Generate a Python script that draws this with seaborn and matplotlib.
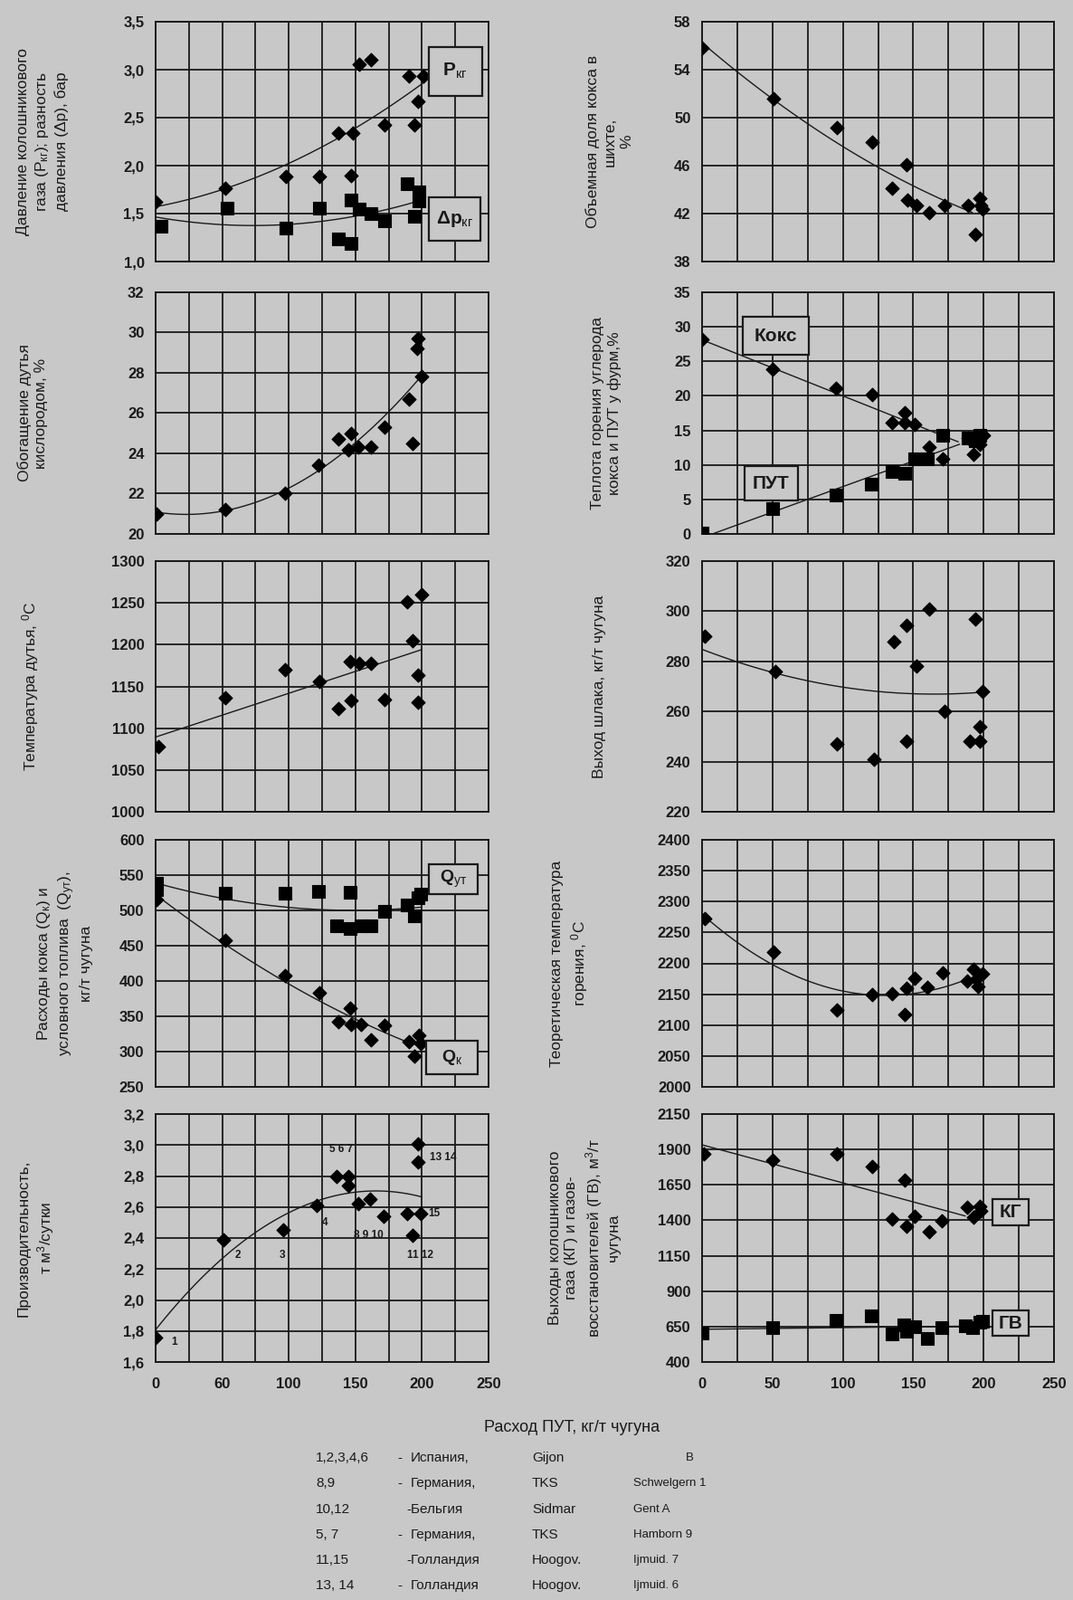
import numpy as np
import matplotlib
matplotlib.use('Agg')
import matplotlib.pyplot as plt
import seaborn as sns
from matplotlib.patches import Rectangle

sns.set_style('white')
plt.rcParams['font.family'] = ['Liberation Sans', 'DejaVu Sans']
plt.rcParams['mathtext.fontset'] = 'custom'
plt.rcParams['mathtext.rm'] = 'Liberation Sans'
plt.rcParams['mathtext.it'] = 'Liberation Sans'
plt.rcParams['mathtext.bf'] = 'Liberation Sans:bold'

BG = '#c8c8c8'
INK = '#1a1a1a'

# ---- data (x = расход ПУТ, кг/т чугуна) ----
p_kg_x = [0, 52, 98, 123, 147, 137, 148, 153, 162, 172, 190, 201, 197, 194]
p_kg_y = [1.62, 1.76, 1.89, 1.89, 1.90, 2.34, 2.34, 3.06, 3.10, 2.42, 2.93, 2.93, 2.67, 2.42]
dp_x = [4, 54, 98, 123, 137, 147, 147, 153, 162, 172, 189, 194, 198, 198]
dp_y = [1.37, 1.56, 1.35, 1.56, 1.24, 1.19, 1.64, 1.55, 1.50, 1.42, 1.81, 1.47, 1.73, 1.63]

coke_share_x = [0, 51, 96, 121, 145, 135, 146, 152, 161, 172, 189, 197, 199, 194, 198]
coke_share_y = [55.8, 51.6, 49.2, 48.0, 46.1, 44.1, 43.1, 42.7, 42.1, 42.7, 42.7, 43.3, 42.4, 40.3, 42.7]

o2_x = [1, 52, 97, 122, 137, 147, 145, 152, 162, 172, 190, 193, 197, 196, 200]
o2_y = [21.0, 21.2, 22.0, 23.4, 24.7, 25.0, 24.2, 24.3, 24.3, 25.3, 26.7, 24.5, 29.7, 29.2, 27.8]

heat_coke_x = [0, 50, 95, 121, 135, 144, 144, 151, 161, 171, 189, 193, 197, 200]
heat_coke_y = [28.2, 23.8, 21.1, 20.2, 16.1, 17.6, 16.1, 15.9, 12.6, 10.9, 13.9, 11.5, 13.0, 14.3]
heat_pci_x = [0, 50, 95, 120, 135, 144, 151, 160, 171, 189, 197, 194]
heat_pci_y = [0.1, 3.7, 5.7, 7.2, 9.0, 8.8, 10.9, 10.9, 14.3, 13.9, 14.3, 13.5]

blast_t_x = [2, 52, 97, 123, 137, 147, 146, 153, 162, 172, 189, 200, 193, 197, 197]
blast_t_y = [1078, 1136, 1170, 1156, 1123, 1133, 1180, 1178, 1178, 1134, 1251, 1260, 1205, 1163, 1131]

slag_x = [2, 52, 96, 122, 136, 145, 152, 145, 161, 172, 194, 199, 197, 190, 197]
slag_y = [290, 276, 247, 241, 288, 294.5, 278, 248, 301, 260, 297, 268, 254, 248, 248]

fuel_x = [1, 1, 52, 97, 122, 146, 136, 146, 154, 162, 172, 189, 194, 197, 199]
fuel_y = [539, 529, 524, 524, 527, 526, 478, 474, 478, 478, 499, 508, 492, 518, 523]
coke_x = [1, 52, 97, 123, 137, 146, 147, 154, 162, 172, 190, 194, 198, 199]
coke_y = [516, 458, 408, 383, 342, 361, 338, 338, 317, 337, 314, 294, 323, 312]

flame_x = [2, 51, 96, 121, 135, 144, 145, 151, 160, 171, 188, 193, 196, 199, 195]
flame_y = [2272, 2218, 2124, 2149, 2151, 2117, 2160, 2176, 2161, 2185, 2171, 2190, 2162, 2183, 2174]

prod_x = [0, 51, 96, 121, 136, 145, 145, 152, 161, 171, 189, 193, 199, 197, 197]
prod_y = [1.76, 2.39, 2.45, 2.61, 2.80, 2.80, 2.74, 2.62, 2.65, 2.54, 2.56, 2.42, 2.56, 3.01, 2.89]

tg_x = [1, 50, 96, 121, 144, 135, 145, 151, 161, 170, 188, 193, 197, 198]
tg_y = [1869, 1827, 1869, 1778, 1685, 1408, 1357, 1431, 1319, 1398, 1493, 1419, 1499, 1467]
rg_x = [0, 50, 95, 120, 135, 143, 145, 151, 160, 170, 187, 192, 197, 199]
rg_y = [607, 643, 692, 723, 596, 664, 616, 647, 569, 643, 654, 643, 679, 685]

# tick labels
x_labels_left = ['0', '60', '100', '150', '200', '250']
x_labels_right = ['0', '50', '100', '150', '200', '250']

legend_ids = ['1,2,3,4,6', '8,9', '10,12', '5, 7', '11,15', '13, 14']
legend_dash = ['-', '-', '', '-', '', '-']
legend_country = ['Испания,', 'Германия,', '-Бельгия', 'Германия,', '-Голландия', 'Голландия']
legend_plant = ['Gijon', 'TKS', 'Sidmar', 'TKS', 'Hoogov.', 'Hoogov.']
legend_furnace = ['B', 'Schwelgern 1', 'Gent A', 'Hamborn 9', 'Ijmuid. 7', 'Ijmuid. 6']

fig = plt.figure(figsize=(11.86, 17.68), dpi=100)
fig.patch.set_facecolor(BG)

W, H = 1186, 1768
cols = [(172, 368), (776, 389)]
rows = [(24, 289), (323, 590), (620, 897), (928, 1201), (1231, 1505)]


def make_ax(r, c):
    x0, w = cols[c]
    top, bot = rows[r]
    ax = fig.add_axes([x0 / W, 1 - bot / H, w / W, (bot - top) / H])
    ax.set_facecolor(BG)
    return ax


def style(ax, yticks, ylabels, bottom=False, xlabels=None):
    ax.set_xlim(0, 250)
    ax.set_ylim(yticks[0], yticks[-1])
    ax.set_xticks(np.arange(0, 251, 25))
    if bottom:
        lab = []
        for v in np.arange(0, 251, 25):
            lab.append(xlabels[int(v // 50)] if v % 50 == 0 else '')
        ax.set_xticklabels(lab, fontsize=12, fontweight='bold')
    else:
        ax.set_xticklabels([])
    ax.set_yticks(yticks)
    ax.set_yticklabels(ylabels, fontsize=12, fontweight='bold')
    ax.tick_params(axis='x', length=0, pad=12, colors=INK)
    ax.tick_params(axis='y', length=3, pad=6, colors=INK)
    ax.grid(True, color=INK, lw=1.3)
    ax.set_axisbelow(True)
    for s in ax.spines.values():
        s.set_color(INK)
        s.set_linewidth(1.4)
    ax.set_xlabel('')


def ylab(ax, text, xpix, c):
    x0, w = cols[c]
    ax.set_ylabel(text, fontsize=12.5, linespacing=1.3, color=INK)
    ax.yaxis.label.set_verticalalignment('center')
    ax.yaxis.set_label_coords((xpix - x0) / w, 0.5)


def pts(ax, x, y, marker):
    size = 58 if marker == 'D' else 100
    sns.scatterplot(x=x, y=y, marker=marker, s=size, color='black',
                    edgecolor='black', linewidth=0.8, ax=ax, zorder=4, legend=False)


def trend(ax, x, y, deg, x_end):
    coef = np.polyfit(x, y, deg)
    xx = np.linspace(0, x_end, 100)
    ax.plot(xx, np.polyval(coef, xx), color=INK, lw=1.0, zorder=3)


def box(ax, x0, x1, y0, y1, text, fs=15):
    ax.add_patch(Rectangle((x0, y0), x1 - x0, y1 - y0, facecolor=BG,
                           edgecolor=INK, lw=1.6, zorder=5))
    ax.text((x0 + x1) / 2, (y0 + y1) / 2, text, ha='center', va='center',
            fontsize=fs, fontweight='bold', zorder=6, color=INK)


def comma(vals, fmt):
    return [fmt.format(v).replace('.', ',') for v in vals]


# ---- row 1 ----
ax = make_ax(0, 0)
t = np.arange(1.0, 3.51, 0.5)
style(ax, t, comma(t, '{:.1f}'))
pts(ax, p_kg_x, p_kg_y, 'D')
pts(ax, dp_x, dp_y, 's')
trend(ax, p_kg_x, p_kg_y, 2, 202)
trend(ax, dp_x, dp_y, 2, 202)
box(ax, 205, 245, 2.73, 3.24, r'P$_{\mathrm{кг}}$')
box(ax, 205, 244, 1.22, 1.67, r'Δp$_{\mathrm{кг}}$')
ylab(ax, 'Давление колошникового\nгаза (P$_{\\mathrm{кг}}$); разность\nдавления (Δp), бар', 47, 0)

ax = make_ax(0, 1)
t = np.arange(38, 59, 4)
style(ax, t, [str(v) for v in t])
pts(ax, coke_share_x, coke_share_y, 'D')
trend(ax, coke_share_x, coke_share_y, 2, 192)
ylab(ax, 'Объемная доля кокса в\nшихте,\n%', 674, 1)

# ---- row 2 ----
ax = make_ax(1, 0)
t = np.arange(20, 33, 2)
style(ax, t, [str(v) for v in t])
pts(ax, o2_x, o2_y, 'D')
trend(ax, o2_x, o2_y, 2, 200)
ylab(ax, 'Обогащение дутья\nкислородом, %', 36, 0)

ax = make_ax(1, 1)
t = np.arange(0, 36, 5)
style(ax, t, [str(v) for v in t])
pts(ax, heat_coke_x, heat_coke_y, 'D')
pts(ax, heat_pci_x, heat_pci_y, 's')
trend(ax, heat_coke_x, heat_coke_y, 1, 182)
trend(ax, heat_pci_x, heat_pci_y, 1, 183)
box(ax, 29, 76, 25.9, 31.5, 'Кокс')
box(ax, 30, 68, 4.8, 9.8, 'ПУТ')
ylab(ax, 'Теплота горения углерода\nкокса и ПУТ у фурм,%', 670, 1)

# ---- row 3 ----
ax = make_ax(2, 0)
t = np.arange(1000, 1301, 50)
style(ax, t, [str(v) for v in t])
pts(ax, blast_t_x, blast_t_y, 'D')
trend(ax, blast_t_x, blast_t_y, 1, 200)
ylab(ax, 'Температура дутья, $^{\\mathrm{0}}$С', 34, 0)

ax = make_ax(2, 1)
t = np.arange(220, 321, 20)
style(ax, t, [str(v) for v in t])
pts(ax, slag_x, slag_y, 'D')
trend(ax, slag_x, slag_y, 2, 199)
ylab(ax, 'Выход шлака, кг/т чугуна', 663, 1)

# ---- row 4 ----
ax = make_ax(3, 0)
t = np.arange(250, 601, 50)
style(ax, t, [str(v) for v in t])
pts(ax, fuel_x, fuel_y, 's')
pts(ax, coke_x, coke_y, 'D')
trend(ax, fuel_x, fuel_y, 2, 199)
trend(ax, coke_x, coke_y, 2, 190)
box(ax, 205, 242, 522.7, 565.6, r'Q$_{\mathrm{ут}}$', 14)
box(ax, 203, 242, 267.6, 316, r'Q$_{\mathrm{к}}$', 14)
ylab(ax, 'Расходы кокса (Q$_{\\mathrm{к}}$) и\nусловного топлива  (Q$_{\\mathrm{ут}}$),\nкг/т чугуна', 71, 0)

ax = make_ax(3, 1)
t = np.arange(2000, 2401, 50)
style(ax, t, [str(v) for v in t])
pts(ax, flame_x, flame_y, 'D')
trend(ax, flame_x, flame_y, 2, 188)
ylab(ax, 'Теоретическая температура\nгорения, $^{\\mathrm{0}}$С', 630, 1)

# ---- row 5 ----
ax = make_ax(4, 0)
t = np.round(np.arange(1.6, 3.21, 0.2), 1)
style(ax, t, comma(t, '{:.1f}'), bottom=True, xlabels=x_labels_left)
pts(ax, prod_x, prod_y, 'D')
trend(ax, prod_x, prod_y, 2, 200)
point_tags = [('1', 14, 1.73), ('2', 62, 2.29), ('3', 95, 2.29), ('4', 127, 2.50),
              ('5 6 7', 139, 2.97), ('8 9 10', 160, 2.42), ('11 12', 199, 2.29),
              ('13 14', 216, 2.92), ('15', 209, 2.56)]
for txt, tx, ty in point_tags:
    ax.text(tx, ty, txt, fontsize=8.5, fontweight='bold', ha='center', va='center',
            color=INK, zorder=6)
ylab(ax, 'Производительность,\nт м$^{\\mathrm{3}}$/сутки', 40, 0)

ax = make_ax(4, 1)
t = np.arange(400, 2151, 250)
style(ax, t, [str(v) for v in t], bottom=True, xlabels=x_labels_right)
pts(ax, tg_x, tg_y, 'D')
pts(ax, rg_x, rg_y, 's')
trend(ax, tg_x, tg_y, 1, 187)
trend(ax, rg_x, rg_y, 1, 199)
box(ax, 206, 232, 1362, 1552, 'КГ')
box(ax, 206, 232, 586, 763, 'ГВ')
ylab(ax, 'Выходы колошникового\nгаза (КГ) и газов-\nвосстановителей (ГВ), м$^{\\mathrm{3}}$/т\nчугуна', 646, 1)

# ---- common x label and plant list ----
fig.text(632 / W, 1 - 1577 / H, 'Расход ПУТ, кг/т чугуна', ha='center', va='center',
         fontsize=13, color=INK)
row_y = [1611, 1639, 1668, 1696, 1724, 1752]
for i in range(len(legend_ids)):
    y = 1 - row_y[i] / H
    fig.text(349 / W, y, legend_ids[i], fontsize=11, va='center', color=INK)
    fig.text(439 / W, y, legend_dash[i], fontsize=11, va='center', color=INK)
    cx = 449 if legend_country[i].startswith('-') else 454
    fig.text(cx / W, y, legend_country[i], fontsize=11, va='center', color=INK)
    fig.text(588 / W, y, legend_plant[i], fontsize=11, va='center', color=INK)
    fx = 758 if legend_furnace[i] == 'B' else 700
    fig.text(fx / W, y, legend_furnace[i], fontsize=9.5, va='center', color=INK)

plt.savefig('out.png', dpi=100, facecolor=BG)
